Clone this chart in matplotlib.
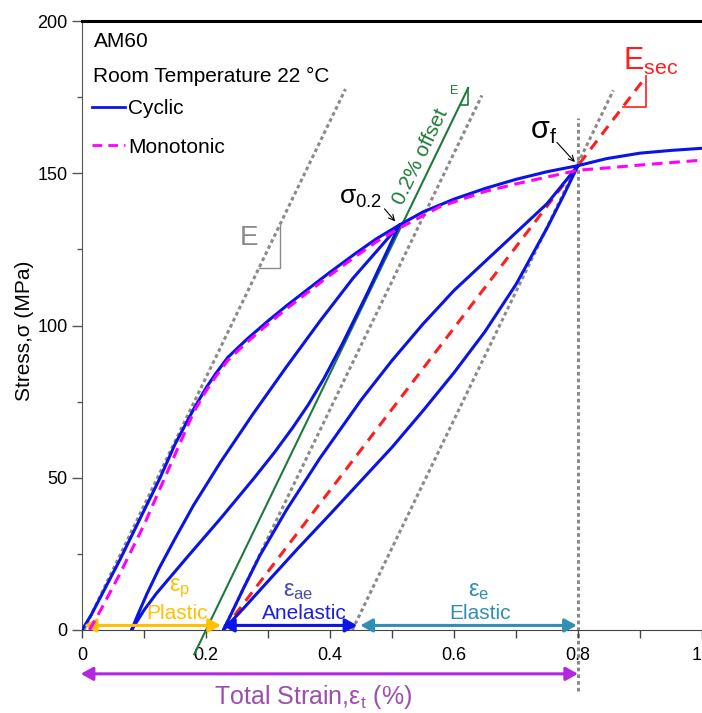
import matplotlib
matplotlib.use("Agg")
import numpy as np
import matplotlib.pyplot as plt
from matplotlib.ticker import MultipleLocator
from matplotlib.lines import Line2D

plt.rcParams['font.family'] = ['Liberation Sans', 'DejaVu Sans']
plt.rcParams['mathtext.fontset'] = 'custom'
plt.rcParams['mathtext.rm'] = 'Liberation Sans'
plt.rcParams['mathtext.it'] = 'Liberation Sans:italic'

# ---- cyclic test (strain %, stress MPa) ----
load1_x = [0, 0.006, 0.015, 0.061, 0.126, 0.15, 0.18, 0.2, 0.215, 0.235, 0.266, 0.3, 0.33,
           0.368, 0.4, 0.44, 0.475, 0.512]
load1_y = [0, 2, 5, 23, 50, 61, 72.5, 79.5, 84, 89.5, 95.5, 101.5, 106.5,
           112.5, 117.5, 123.5, 128.5, 133]
unload1_x = [0.512, 0.46, 0.42, 0.39, 0.365, 0.34, 0.31, 0.276, 0.223, 0.17, 0.12, 0.1, 0.08]
unload1_y = [133, 110.5, 94, 82.5, 74, 66.5, 58.2, 49.5, 36.5, 24, 12, 6.5, 0]
reload1_x = [0.08, 0.09, 0.105, 0.125, 0.15, 0.18, 0.223, 0.276, 0.33, 0.384, 0.437, 0.48, 0.512]
reload1_y = [0, 5, 12, 20.5, 30, 41, 55, 71, 86.5, 101.5, 115.5, 125.5, 133]
load2_x = [0.512, 0.55, 0.6, 0.65, 0.7, 0.75, 0.8]
load2_y = [133, 137.3, 141.5, 145, 148, 150.5, 152.5]
unload2_x = [0.8, 0.775, 0.75, 0.7, 0.65, 0.6, 0.55, 0.5, 0.45, 0.4, 0.346, 0.3, 0.26, 0.228]
unload2_y = [152.5, 142, 132, 113.5, 98, 84.5, 72, 60, 49, 38, 26.3, 16, 7, 0]
reload2_x = [0.228, 0.24, 0.26, 0.287, 0.33, 0.384, 0.45, 0.5, 0.55, 0.6, 0.65, 0.7, 0.75, 0.8]
reload2_y = [0, 5, 13.5, 24.5, 39.5, 56.5, 75.5, 88.5, 100.5, 111.5, 121, 130.5, 140, 152.5]
load3_x = [0.8, 0.82, 0.846, 0.9, 0.95, 1.0]
load3_y = [152.5, 153.5, 154.8, 156.6, 157.5, 158.2]

# ---- monotonic test ----
mono_x = [0.012, 0.03, 0.06, 0.1, 0.153, 0.18, 0.2, 0.215, 0.235, 0.266, 0.3, 0.33, 0.368,
          0.4, 0.44, 0.475, 0.512, 0.577, 0.65, 0.7, 0.8, 0.85, 0.9, 1.0]
mono_y = [0, 6.5, 18, 34.5, 59, 71.5, 78.5, 83, 88.5, 94.5, 100.5, 105.5, 111.5,
          116.5, 122.5, 127.5, 132, 139, 144, 146.5, 151, 151.8, 152.7, 154.3]

# modulus lines
E_mod = 421.0                      # MPa per % strain
e_line_start = [0.003, 0.228, 0.436]
e_line_end = [0.425, 0.645, 0.857]
offset_start = 0.2                 # 0.2 % offset line
offset_ylim = [-8, 178]
sigma_02 = (0.512, 133)
sigma_f = (0.8, 152.5)
sec_start = 0.228
sec_end = 0.91

# strain components along x axis
plastic = (0.003, 0.224)
anelastic = (0.226, 0.444)
elastic = (0.449, 0.798)
total = (-0.002, 0.8)

x_ticks = [0, 0.2, 0.4, 0.6, 0.8, 1.0]
x_ticklabels = ['0', '0.2', '0.4', '0.6', '0.8', '1']

blue = '#0A14E6'
magenta = '#FF00FF'
red = '#FF1E1E'
grey = '#8A8A8A'
green = '#1F7A3A'
gold = '#FFC000'
teal = '#2F8FB5'
violet = '#B526E0'

fig = plt.figure(figsize=(7.02, 7.13), dpi=100)
ax = fig.add_axes([82/702, 83/713, 620/702, 609/713])

cyc_x = load1_x + unload1_x[1:] + reload1_x[1:] + load2_x[1:] + unload2_x[1:] + reload2_x[1:] + load3_x[1:]
cyc_y = load1_y + unload1_y[1:] + reload1_y[1:] + load2_y[1:] + unload2_y[1:] + reload2_y[1:] + load3_y[1:]

# grey E lines
for x0, x1 in zip(e_line_start, e_line_end):
    xs = np.array([x0, x1])
    ax.plot(xs, E_mod*(xs - x0), color=grey, lw=2.2, dashes=(1.2, 1.0), zorder=1)
# vertical line at sigma_f strain
ax.plot([sigma_f[0], sigma_f[0]], [-20, 168], color=grey, lw=2.2, dashes=(1.2, 1.0),
        zorder=1, clip_on=False)

# grey E triangle
tx = e_line_start[0] + 133/E_mod
ax.plot([tx, tx, e_line_start[0] + 119/E_mod], [133, 119, 119], color=grey, lw=1)
ax.text(0.269, 128.6, 'E', color=grey, fontsize=20, ha='center', va='center')

# 0.2 % offset line
oy = np.array(offset_ylim)
ax.plot(offset_start + oy/E_mod, oy, color=green, lw=1.5, zorder=2, clip_on=False)
gx = offset_start + 178/E_mod
ax.plot([gx, gx, offset_start + 172.3/E_mod], [178, 172.3, 172.3], color=green, lw=1.2)
ax.text(0.6, 177, 'E', color=green, fontsize=9, ha='center', va='center')
ax.text(0.546, 155.5, '0.2% offset', color=green, fontsize=15, rotation=64.3,
        rotation_mode='anchor', ha='center', va='center')

# secant line
sec_slope = sigma_f[1]/(sigma_f[0] - sec_start)
sx = np.array([sec_start, sec_end])
ax.plot(sx, sec_slope*(sx - sec_start), color=red, lw=2.2, dashes=(3.5, 2.5), zorder=2)
sy = sec_slope*(sec_end - sec_start)
ax.plot([sec_end, sec_end, sec_start + (sy - 10)/sec_slope], [sy, sy - 10, sy - 10],
        color=red, lw=1.2)
ax.text(0.873, 183.8, r'$\mathregular{E_{sec}}$', color=red, fontsize=22,
        ha='left', va='baseline')

# curves
ax.plot(cyc_x, cyc_y, color=blue, lw=2.2, zorder=3)
ax.plot(mono_x, mono_y, color=magenta, lw=2.2, dashes=(3.5, 2.2), zorder=4)

# stress labels
ax.annotate('', xy=(sigma_02[0] - 0.004, sigma_02[1] + 0.5), xytext=(0.485, 139),
            arrowprops=dict(arrowstyle='->', color='black', lw=0.8))
ax.text(0.45, 141.8, r'$\mathregular{\sigma_{0.2}}$', fontsize=19, ha='center', va='center')
ax.annotate('', xy=(sigma_f[0] - 0.002, sigma_f[1] + 0.5), xytext=(0.763, 160.8),
            arrowprops=dict(arrowstyle='->', color='black', lw=0.8))
ax.text(0.744, 164, r'$\mathregular{\sigma_f}$', fontsize=22, ha='center', va='center')

# strain component arrows
astyle = '<|-|>,head_length=0.45,head_width=0.25'
for (a, b), c, yv in [(plastic, gold, 1.5), (anelastic, blue, 1.5), (elastic, teal, 1.5),
                      (total, violet, -14.4)]:
    ax.annotate('', xy=(b, yv), xytext=(a, yv), annotation_clip=False,
                arrowprops=dict(arrowstyle=astyle, color=c, lw=2.2, shrinkA=0, shrinkB=0,
                                mutation_scale=16, clip_on=False))

ax.text(0.158, 13.6, r'$\mathregular{ε_p}$', color=gold, fontsize=17, ha='center', va='center')
ax.text(0.153, 5.5, 'Plastic', color=gold, fontsize=15, ha='center', va='center')
ax.text(0.348, 12.8, r'$\mathregular{ε_{ae}}$', color='#4B4BAA', fontsize=17, ha='center', va='center')
ax.text(0.358, 5.5, 'Anelastic', color='#1E1EE0', fontsize=15, ha='center', va='center')
ax.text(0.639, 12.8, r'$\mathregular{ε_e}$', color=teal, fontsize=17, ha='center', va='center')
ax.text(0.642, 5.5, 'Elastic', color=teal, fontsize=15, ha='center', va='center')

# header text + legend
ax.text(0.019, 0.966, 'AM60', transform=ax.transAxes, fontsize=15, va='center')
ax.text(0.018, 0.9097, 'Room Temperature 22 °C', transform=ax.transAxes, fontsize=15, va='center')
handles = [Line2D([], [], color=blue, lw=2),
           Line2D([], [], color=magenta, lw=2, dashes=(3.5, 2.2))]
ax.legend(handles, ['Cyclic', 'Monotonic'], loc='upper left', bbox_to_anchor=(0.016, 0.872),
          frameon=False, fontsize=15, handlelength=1.6, handletextpad=0.15,
          labelspacing=0.95, borderpad=0, borderaxespad=0)

# axes styling
ax.set_xlim(0, 1)
ax.set_ylim(0, 200)
ax.spines['right'].set_visible(False)
ax.spines['top'].set_linewidth(2.2)
ax.spines['left'].set_color('#555555')
ax.spines['bottom'].set_color('#444444')
ax.set_xticks(x_ticks, x_ticklabels)
ax.xaxis.set_minor_locator(MultipleLocator(0.1))
ax.yaxis.set_major_locator(MultipleLocator(50))
ax.yaxis.set_minor_locator(MultipleLocator(25))
ax.tick_params(axis='x', which='both', length=6, width=1, pad=6, labelsize=13, color='#444444')
ax.tick_params(axis='y', which='major', length=7, width=1, pad=3.5, labelsize=13, color='#555555')
ax.tick_params(axis='y', which='minor', length=3.5, width=1, color='#555555')
# the last label sits on the figure edge; right-align it so it stays visible
for t in ax.xaxis.get_major_ticks():
    if abs(t.get_loc() - 1.0) < 1e-9:
        t.label1.set_horizontalalignment('right')

ax.set_ylabel('Stress,σ (MPa)', fontsize=15)
ax.yaxis.set_label_coords(-0.077, 0.491)
ax.text(0.373, -0.11, r'Total Strain,$\mathregular{ε_t}$ (%)', transform=ax.transAxes,
        color='#9C4FAE', fontsize=18, ha='center', va='center')

fig.savefig('out.png', dpi=100)
